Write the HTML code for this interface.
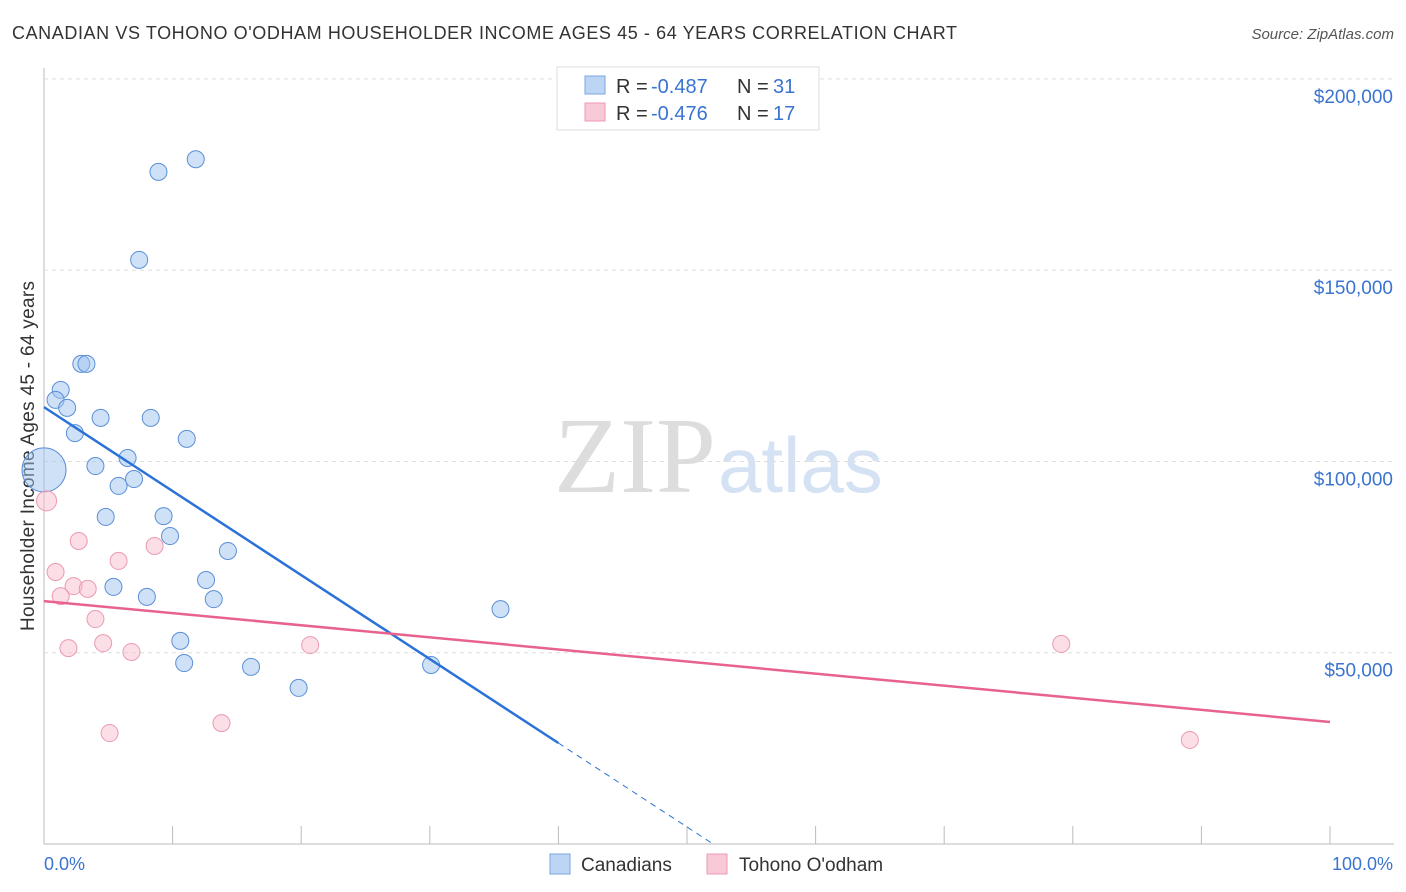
<!DOCTYPE html>
<html><head><meta charset="utf-8"><style>
body{margin:0;background:#fff;font-family:"Liberation Sans",sans-serif;}
svg{display:block}
</style></head><body>
<svg id="c" width="1406" height="892">
<text x="12" y="39" font-size="18" fill="#333" textLength="945">CANADIAN VS TOHONO O'ODHAM HOUSEHOLDER INCOME AGES 45 - 64 YEARS CORRELATION CHART</text>
<text x="1394" y="39" font-size="15" fill="#555" font-style="italic" text-anchor="end">Source: ZipAtlas.com</text>
<text x="0" y="0" transform="translate(34,456) rotate(-90)" font-size="19" fill="#333" text-anchor="middle" textLength="350">Householder Income Ages 45 - 64 years</text>
<text x="716" y="492" font-size="108" fill="#ddd" font-family="Liberation Serif,serif" text-anchor="end">ZIP</text>
<text x="718" y="492" font-size="78" fill="#d4e2f4">atlas</text>
<g id="grid"></g><g id="pts"></g><g id="lines"></g>
<g>
<rect x="557" y="67" width="262" height="63" fill="#fff" stroke="#ddd"/>
<rect x="585" y="76" width="20" height="18" fill="#bcd5f5" stroke="#7aa6e0"/>
<text x="616" y="93" font-size="20" fill="#333">R = </text><text x="651" y="93" font-size="20" fill="#3a74d0">-0.487</text>
<text x="737" y="93" font-size="20" fill="#333">N = </text><text x="773" y="93" font-size="20" fill="#3a74d0">31</text>
<rect x="585" y="103" width="20" height="18" fill="#f8c9d6" stroke="#eb9ab1"/>
<text x="616" y="120" font-size="20" fill="#333">R = </text><text x="651" y="120" font-size="20" fill="#3a74d0">-0.476</text>
<text x="737" y="120" font-size="20" fill="#333">N = </text><text x="773" y="120" font-size="20" fill="#3a74d0">17</text>
</g>
<g>
<rect x="550" y="854" width="20" height="20" fill="#bcd5f5" stroke="#7aa6e0"/>
<text x="581" y="871" font-size="19" fill="#333">Canadians</text>
<rect x="707" y="854" width="20" height="20" fill="#f8c9d6" stroke="#eb9ab1"/>
<text x="739" y="871" font-size="19" fill="#333">Tohono O'odham</text>
</g>
<text x="44" y="870" font-size="18" fill="#3a74d0">0.0%</text>
<text x="1393" y="870" font-size="18" fill="#3a74d0" text-anchor="end">100.0%</text>
</svg>
<script>
const yTicks=[50000,100000,150000,200000];
const yTickLabels=["$50,000","$100,000","$150,000","$200,000"];
const blueX=[11.8,8.9,7.4,2.9,3.3,1.3,0.9,1.8,4.4,8.3,2.4,11.1,0.0,4.0,6.5,7.0,5.8,4.8,9.3,9.8,14.3,12.6,5.4,8.0,13.2,35.5,10.6,10.9,16.1,30.1,19.8];
const blueY=[179000,175700,152700,125500,125500,118700,116100,114000,111400,111400,107400,105900,97800,98800,100900,95400,93600,85500,85700,80500,76600,69000,67200,64600,64000,61400,53100,47300,46300,46800,40800];
const pinkX=[0.2,2.7,8.6,5.8,0.9,2.3,3.4,1.3,4.0,4.6,6.8,1.9,20.7,79.1,13.8,5.1,89.1];
const pinkY=[89700,79200,77900,74000,71100,67400,66700,64800,58800,52500,50200,51200,52000,52300,31600,29000,27200];
const blueTrend=[114200,-2195];
const pinkTrend=[63500,-316];
const NS="http://www.w3.org/2000/svg";
const xs=v=>44+v*12.86, ys=v=>844-v/261.4;
function mk(t,a,p){const e=document.createElementNS(NS,t);for(const k in a)e.setAttribute(k,a[k]);p.appendChild(e);return e;}
const g=document.getElementById('grid');
mk('line',{x1:44,y1:68,x2:44,y2:844,stroke:'#bbb'},g);
mk('line',{x1:44,y1:844,x2:1394,y2:844,stroke:'#bbb'},g);
for(let i=0;i<=10;i++){const l=mk('line',{x1:xs(i*10),y1:844,x2:xs(i*10),y2:826,stroke:'#bbb'},g);

}
yTicks.forEach((v,i)=>{const l=mk('line',{x1:44,y1:ys(v),x2:1394,y2:ys(v),stroke:'#ddd','stroke-dasharray':'4,4'},g);


const t=mk('text',{x:1393,y:ys(v)+24,'font-size':19,fill:'#3a74d0','text-anchor':'end'},g);t.textContent=yTickLabels[i];

});
const p=document.getElementById('pts');
blueX.forEach((x,i)=>{const c=mk('circle',{cx:xs(x),cy:ys(blueY[i]),r:i==12?22:8.5,fill:'rgba(160,196,240,0.5)',stroke:'#5a8fd8','stroke-width':1},p);

});
pinkX.forEach((x,i)=>{const c=mk('circle',{cx:xs(x),cy:ys(pinkY[i]),r:i==0?10:8.5,fill:'rgba(248,190,206,0.5)',stroke:'#eb9ab1','stroke-width':1},p);

});
const L=document.getElementById('lines');
const bl=mk('line',{x1:xs(0),y1:ys(blueTrend[0]),x2:xs(40),y2:ys(blueTrend[0]+40*blueTrend[1]),stroke:'#2a72d8','stroke-width':2.5},L);


const xe=-blueTrend[0]/blueTrend[1];
const bd=mk('line',{x1:xs(40),y1:ys(blueTrend[0]+40*blueTrend[1]),x2:xs(xe),y2:ys(0),stroke:'#2a72d8','stroke-width':1,'stroke-dasharray':'6,5'},L);


const pl=mk('line',{x1:xs(0),y1:ys(pinkTrend[0]),x2:xs(100),y2:ys(pinkTrend[0]+100*pinkTrend[1]),stroke:'#e8628e','stroke-width':2.5},L);


</script>
</body></html>
